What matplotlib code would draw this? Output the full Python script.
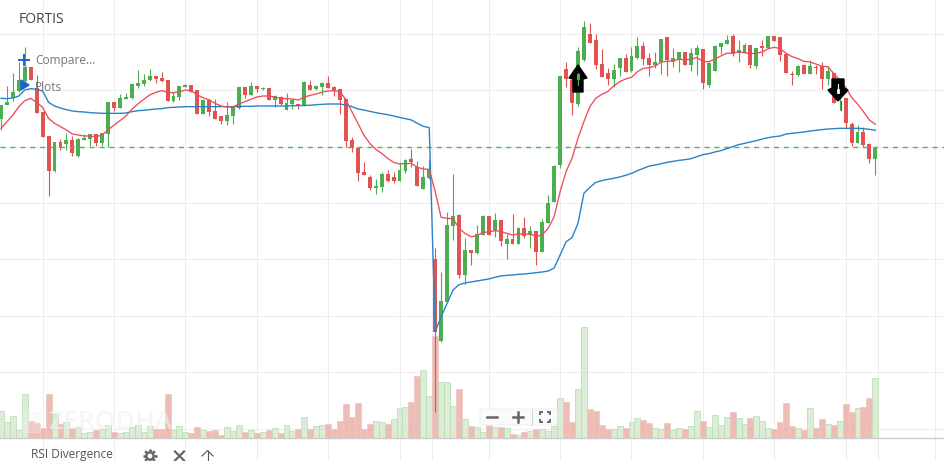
import numpy as np
import matplotlib
matplotlib.use("Agg")
import matplotlib.pyplot as plt
from matplotlib.patches import Polygon, FancyBboxPatch, Circle

W, H = 944, 461

# Notional price scale (larger = lower on the chart)
highs = [315,258,219,186,141,201,225,336,408,426,417,399,408,414,402,402,402,399,306,306,282,279,249,210,222,207,228,216,240,276,258,252,255,270,297,297,297,348,306,318,261,261,246,258,261,264,285,288,279,297,312,243,240,
 255,246,228,258,267,297,411,444,486,525,537,516,510,516,486,477,447,483,498,477,744,816,636,522,642,714,750,675,645,648,639,660,702,642,681,651,678,693,657,585,495,228,186,222,141,63,69,102,147,204,192,174,162,
 141,111,126,159,156,117,111,144,156,156,144,135,147,186,135,129,105,102,120,129,135,144,120,108,108,111,162,213,195,192,180,195,186,198,219,240,294,366,375,381,429,441]
lows = [390,315,303,276,246,240,339,411,588,516,450,450,468,471,420,438,438,438,441,333,324,297,297,264,258,243,249,246,303,306,300,261,276,342,342,348,358,372,375,372,327,294,285,276,271,300,320,315,330,327,327,318,270,
 270,285,264,288,342,441,456,543,525,570,582,576,546,549,543,519,501,558,567,537,1235,1026,906,720,834,852,795,762,705,705,711,738,777,732,732,714,744,795,756,669,606,504,261,345,318,183,129,207,231,255,261,228,216,
 216,177,195,228,204,222,228,201,216,195,213,225,267,261,213,162,132,168,186,159,204,204,168,144,123,183,219,255,228,222,222,222,267,255,309,330,384,438,429,441,489,525]
body_top = [315,306,276,240,201,201,264,336,408,426,426,420,420,417,414,402,402,399,306,306,294,291,252,249,240,228,228,234,240,288,258,255,255,270,300,300,333,348,345,318,261,261,258,258,265,264,288,291,309,300,312,246,255,
 258,249,249,261,267,297,420,444,516,531,558,522,522,531,510,480,477,501,531,507,777,903,675,648,645,750,750,702,648,648,660,660,717,717,684,684,693,693,666,609,498,228,207,240,153,81,102,120,192,219,210,174,174,
 168,138,138,174,186,117,111,174,156,156,159,144,147,189,138,129,120,108,150,135,135,144,138,108,108,111,162,222,198,195,198,201,198,213,219,240,294,372,396,396,432,441]
body_bot = [357,315,294,273,243,240,339,411,513,513,444,432,459,468,420,417,429,429,402,324,324,297,294,258,252,240,237,243,303,303,291,261,276,342,342,336,357,363,363,348,324,285,285,267,268,300,300,312,330,312,318,315,270,
 267,261,264,270,300,423,444,519,525,564,564,561,543,543,543,513,486,558,567,534,996,1023,906,678,825,825,759,759,705,705,693,723,732,732,732,708,705,756,756,669,606,495,237,308,312,180,129,195,231,237,237,204,216,
 213,174,177,195,195,186,180,186,180,195,195,165,249,255,213,141,132,162,159,156,195,198,144,144,123,165,219,225,225,222,222,204,237,237,309,290,369,429,429,435,477,477]
candle_dir = ("GGGGGRRRRGRGRGGGRGGRGGGGGGRRRGGGRRGRRRGGGRGRGRGRGGRGR"
 "GGRRRRRRRRGGRRGGRRGGRGGGRGRGGRGRGRGRGRGGGGRRGGRRRRGGR"
 "GGRRGGRGGRGGRGGGGRGGRGRGRRRRGRGRRGRGRRGRRG")
red_ma = [385,365,345,320,302,295,307,322,355,370,380,390,402,405,408,408,410,405,390,375,362,348,328,312,298,285,277,272,277,278,275,270,272,285,293,300,310,318,321,321,312,305,298,291,288,288,291,295,296,297,300,291,286,
 282,276,273,272,275,300,335,370,405,430,448,460,475,487,492,491,490,502,507,508,575,652,655,656,685,700,710,708,697,696,692,694,700,705,702,702,702,710,704,685,650,575,515,475,415,365,320,295,283,275,258,245,237,
 232,215,205,203,198,186,184,182,178,179,178,172,185,185,177,168,160,159,156,158,161,160,156,146,142,146,160,170,176,184,186,192,199,200,220,240,262,292,312,335,360,373]
blue_ma = [295,296,294,288,270,266,268,273,307,318,324,329,333,335,336,338,339,340,340,340,340,339,335,332,331,329,327,326,323,322,321,320,320,320,320,320,320,320,320,320,319,319,319,318,318,318,318,318,318,317,317,316,316,
 314,313,312,312,312,315,320,327,330,334,338,341,344,348,352,356,360,370,379,383,995,950,910,870,854,849,846,843,840,837,832,828,826,825,823,822,820,818,816,813,804,765,725,713,670,580,562,547,542,538,535,531,526,
 520,512,505,498,495,491,487,484,481,479,476,470,464,461,456,452,446,440,434,430,426,422,417,413,410,408,402,400,398,396,393,391,389,387,386,385,385,385,385,386,388,391]
volume = [79,46,64,22,130,49,43,28,130,70,40,46,28,31,13,16,22,25,37,16,13,16,31,37,16,34,25,25,130,22,34,16,13,31,22,19,22,7,31,19,37,16,22,13,16,22,28,13,37,19,25,61,25,
 34,37,40,25,49,100,61,103,25,40,49,46,40,55,88,91,106,184,204,124,304,166,166,94,145,55,34,31,16,37,31,31,28,10,7,16,19,25,25,19,34,118,106,46,145,331,85,79,37,25,25,34,28,
 46,58,52,43,28,25,43,22,28,25,34,79,49,31,67,37,61,76,58,40,58,64,49,28,25,46,103,34,28,22,88,28,55,40,37,49,100,76,88,91,118,178]
volume_dir = ("GGGGGRRRRGRGRGGGRGGRGGGGGGRRRGGGRRGRRRGGGRGRGRGRGGRGR"
 "GGRRRRRRRRGGRGGGRRGGRGGGRGRGGRGRGRGRGRGGGGRRGGRRRRGGR"
 "GGRRGGRGGRGGRGGGGRGGRGGGRRRRGRGRRGRGRRGRRG")
grid_x = [7,19,31,43,55,67,72.5,82,94,106,118,130,142,147.5,157]
grid_y = [102,271,441,610,778,949,1117,1287]
last_price = 441
title = "FORTIS"

n = len(highs)
idx = np.arange(n)
PX = 5.948
xlim = (-1/PX, (W-1)/PX)

plt.rcParams['font.family'] = ['Open Sans', 'DejaVu Sans']
fig = plt.figure(figsize=(W/100, H/100), dpi=100, facecolor='white')
ax = fig.add_axes([0, 0, 1, 1])
ax.set_xlim(*xlim)
ax.set_ylim(H*3, 0)
ax.axis('off')

GRID = '#eeeeee'
for g in grid_x:
    ax.axvline(g, color=GRID, lw=0.8, zorder=1)
for g in grid_y:
    ax.axhline(g, color=GRID, lw=0.8, zorder=1)

# volume panel, sharing the candle index, sitting above the bottom strip
base = 437.5
vax = fig.add_axes([0, (H-base)/H, 1, base/H], facecolor='none')
vax.set_xlim(*xlim)
vax.set_ylim(0, base*3)
vax.axis('off')
vcol = ['#d3e8cc' if d == 'G' else '#e9a9a1' for d in volume_dir]
vedge = ['#bcdcb5' if d == 'G' else '#f2c6c0' for d in volume_dir]
vax.bar(idx, volume, width=1.0, color=vcol, edgecolor=vedge, linewidth=0.7, alpha=0.78, zorder=2)

# candles drawn above the volume panel on a transparent layer
cax = fig.add_axes([0, 0, 1, 1], facecolor='none')
cax.set_xlim(*xlim)
cax.set_ylim(H*3, 0)
cax.axis('off')
GREEN, RED = '#4cae50', '#e05350'
ccol = [GREEN if d == 'G' else RED for d in candle_dir]
cax.vlines(idx, highs, lows, colors=ccol, lw=0.8, zorder=3)
cax.bar(idx, np.array(body_bot)-np.array(body_top), bottom=body_top, width=0.66, color=ccol, linewidth=0, zorder=3)
cax.axhline(last_price, color='#62b066', lw=1.05, dashes=(3.4, 3.4), zorder=4)
cax.plot(idx, blue_ma, color='#2a83c6', lw=1.0, zorder=5)
cax.plot(idx, red_ma, color='#ee4b5a', lw=0.95, zorder=6)

# overlay layer in pixel coordinates for interface furniture
ui = fig.add_axes([0, 0, 1, 1], facecolor='none')
ui.set_xlim(0, W)
ui.set_ylim(H, 0)
ui.axis('off')

up = [(578,65),(587,78),(583,79),(583,92),(573,92),(573,79),(569,78)]
ui.add_patch(Polygon(up, closed=True, color='black', zorder=7))
ui.plot([578,578],[73,85], color=GREEN, lw=0.8, zorder=8)
ui.plot([578,578],[75.5,78], color=GREEN, lw=2.2, zorder=8)
dn = [(832,79),(844,79),(844,88),(848,90),(838,101),(828,90),(832,88)]
ui.add_patch(Polygon(dn, closed=True, color='black', zorder=7))
ui.plot([838,838],[84,92], color='white', lw=0.8, zorder=8)
ui.plot([838,838],[90.5,92.5], color='white', lw=2, zorder=8)
ui.plot([840.5,840.5],[101,110], color='#555555', lw=0.8, zorder=6)

ui.axhline(438, color='#cccccc', lw=1.0, zorder=9)

ui.text(19, 19.5, title, fontsize=10, color='#444444', va='center', ha='left', zorder=10)
ui.text(35, 60.5, 'Compare...', fontsize=8.6, color='#777777', va='center', ha='left', zorder=10)
ui.text(35, 87.5, 'Plots', fontsize=8.6, color='#777777', va='center', ha='left', zorder=10)
ui.plot([19,29],[60,60], color='#1e62d0', lw=1.4, zorder=10)
ui.plot([24,24],[55,65], color='#1e62d0', lw=1.4, zorder=10)
ui.add_patch(Polygon([(21,80),(29,85),(21,90)], closed=True, color='#1e62d0', zorder=10))

# faint watermark with its logo
ui.add_patch(Polygon([(21,412),(40,412),(40,432),(21,432)], closed=True, color='#f0f0f0', alpha=0.3, zorder=3))
ui.text(48, 422.5, 'ZERODHA', fontsize=19, color='#f0f0f0', alpha=0.6, va='center', ha='left', fontweight='semibold', zorder=3)

ui.text(31, 458, 'RSI Divergence', fontsize=8.6, color='#555555', va='baseline', ha='left', zorder=10)
# toolbar icons
ICON = '#666666'
ui.add_patch(Circle((150, 456), 3.6, fc='none', ec=ICON, lw=1.7, zorder=10))
for ang in np.deg2rad(np.arange(0, 360, 45)):
    ui.plot([150+4.2*np.cos(ang), 150+6.8*np.cos(ang)], [456+4.2*np.sin(ang), 456+6.8*np.sin(ang)], color=ICON, lw=1.9, zorder=10, solid_capstyle='butt')
ui.plot([175,184],[451.5,460.5], color=ICON, lw=1.6, zorder=10)
ui.plot([175,184],[460.5,451.5], color=ICON, lw=1.6, zorder=10)
ui.plot([207.5,207.5],[451,461], color='#555555', lw=0.8, zorder=10)
ui.plot([202,207.5,213],[456,450.5,456], color='#555555', lw=0.8, zorder=10)

ui.add_patch(FancyBboxPatch((480, 409), 77, 16, boxstyle='round,pad=0,rounding_size=2', fc='#fafafa', ec='#f0f0f0', lw=0.8, alpha=0.95, zorder=10))
ui.plot([487,497],[417,417], color='#666666', lw=1.8, zorder=11)
ui.plot([513,523],[417,417], color='#666666', lw=1.8, zorder=11)
ui.plot([518,518],[412,422], color='#666666', lw=1.8, zorder=11)
ui.plot([531.5,531.5],[409,425], color='#d5d5d5', lw=0.8, zorder=11)
for cx, cy, sx, sy in [(540,412,1,1),(550,412,-1,1),(540,422,1,-1),(550,422,-1,-1)]:
    ui.plot([cx+3*sx,cx,cx],[cy,cy,cy+3*sy], color='#666666', lw=1.4, zorder=11, solid_capstyle='butt')

fig.savefig('out.png', dpi=100, facecolor='white')
